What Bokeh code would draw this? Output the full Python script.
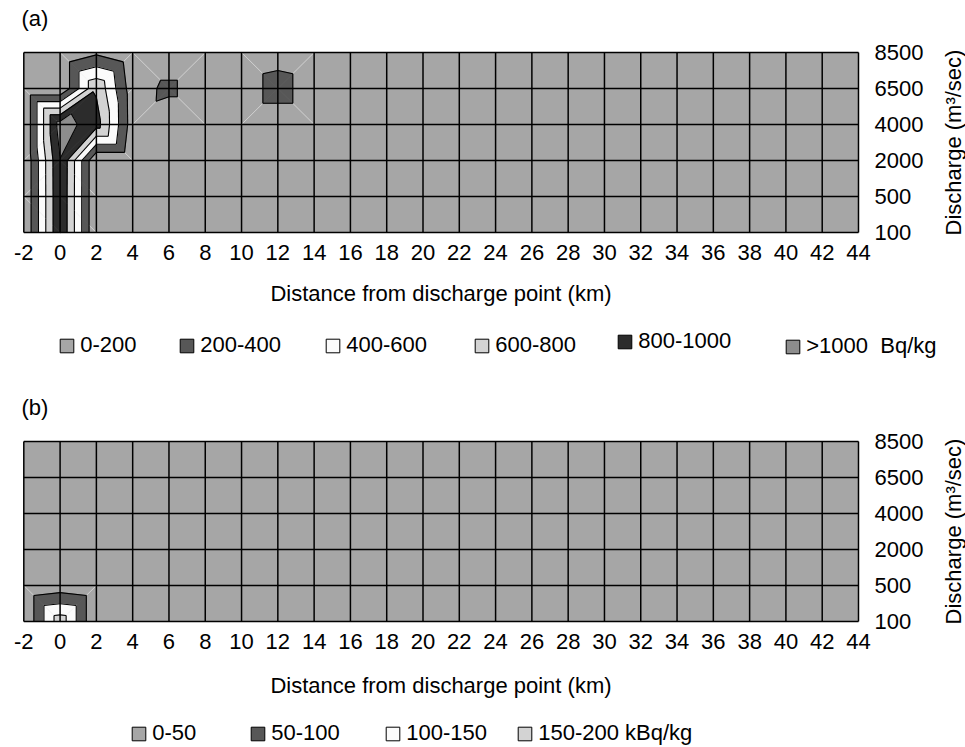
import math
import numpy as np
from bokeh.plotting import figure
from bokeh.layouts import column
from bokeh.models import FixedTicker, Legend, LegendItem, Range1d, Label
from bokeh.embed import file_html
from bokeh.resources import INLINE

FONT = "Liberation Sans"
WIDTH = 965

# distance from the discharge point (km) and discharge levels (m3/sec)
distance_km = [-2, 0, 2, 4, 6, 8, 10, 12, 14, 16, 18, 20, 22, 24, 26, 28, 30, 32, 34, 36, 38, 40, 42, 44]
discharge_labels = ["100", "500", "2000", "4000", "6500", "8500"]

# (a) activity in Bq/kg, one list per discharge level
bq_q100 = [0, 990, 0, 0, 0, 0, 0, 0, 0, 0, 0, 0, 0, 0, 0, 0, 0, 0, 0, 0, 0, 0, 0, 0]
bq_q500 = [0, 990, 0, 0, 0, 0, 0, 0, 0, 0, 0, 0, 0, 0, 0, 0, 0, 0, 0, 0, 0, 0, 0, 0]
bq_q2000 = [0, 995, 0, 0, 0, 0, 0, 0, 0, 0, 0, 0, 0, 0, 0, 0, 0, 0, 0, 0, 0, 0, 0, 0]
bq_q4000 = [0, 1100, 890, 90, 0, 0, 0, 0, 0, 0, 0, 0, 0, 0, 0, 0, 0, 0, 0, 0, 0, 0, 0, 0]
bq_q6500 = [0, 0, 770, 80, 260, 0, 0, 340, 0, 0, 0, 0, 0, 0, 0, 0, 0, 0, 0, 0, 0, 0, 0, 0]
bq_q8500 = [0, 0, 160, 0, 0, 0, 0, 60, 0, 0, 0, 0, 0, 0, 0, 0, 0, 0, 0, 0, 0, 0, 0, 0]

a_levels = [200, 400, 600, 800, 1000]
a_labels = ["0-200", "200-400", "400-600", "600-800", "800-1000", ">1000\u00a0 Bq/kg"]
a_colors = ["#a6a6a6", "#575757", "#fbfbfb", "#d3d3d3", "#2c2c2c", "#8d8d8d"]

# (b) activity in kBq/kg, one list per discharge level
kbq_q100 = [0, 180, 0, 0, 0, 0, 0, 0, 0, 0, 0, 0, 0, 0, 0, 0, 0, 0, 0, 0, 0, 0, 0, 0]
kbq_q500 = [0, 18, 0, 0, 0, 0, 0, 0, 0, 0, 0, 0, 0, 0, 0, 0, 0, 0, 0, 0, 0, 0, 0, 0]
kbq_q2000 = [0, 0, 0, 0, 0, 0, 0, 0, 0, 0, 0, 0, 0, 0, 0, 0, 0, 0, 0, 0, 0, 0, 0, 0]
kbq_q4000 = [0, 0, 0, 0, 0, 0, 0, 0, 0, 0, 0, 0, 0, 0, 0, 0, 0, 0, 0, 0, 0, 0, 0, 0]
kbq_q6500 = [0, 0, 0, 0, 0, 0, 0, 0, 0, 0, 0, 0, 0, 0, 0, 0, 0, 0, 0, 0, 0, 0, 0, 0]
kbq_q8500 = [0, 0, 0, 0, 0, 0, 0, 0, 0, 0, 0, 0, 0, 0, 0, 0, 0, 0, 0, 0, 0, 0, 0, 0]

b_levels = [50, 100, 150]
b_labels = ["0-50", "50-100", "100-150", "150-200 kBq/kg"]
b_colors = ["#a6a6a6", "#575757", "#fbfbfb", "#d3d3d3"]


def split_cells(z, first_level):
    """Split every grid cell into two triangles along its higher diagonal."""
    ny, nx = z.shape
    tris, diags = [], []
    for j in range(ny - 1):
        for i in range(nx - 1):
            bl, br, tl, tr = (i, j), (i + 1, j), (i, j + 1), (i + 1, j + 1)
            if z[j, i] + z[j + 1, i + 1] > z[j + 1, i] + z[j, i + 1]:
                tris += [(bl, br, tr), (bl, tr, tl)]
                d = (bl, tr)
            else:
                tris += [(bl, br, tl), (tl, br, tr)]
                d = (tl, br)
            corners = [z[j, i], z[j, i + 1], z[j + 1, i], z[j + 1, i + 1]]
            if max(corners) >= first_level:
                diags.append(d)
    return tris, diags


def clip_above(pts, vals, level):
    out = []
    for k in range(3):
        (xa, ya), za = pts[k], vals[k]
        (xb, yb), zb = pts[(k + 1) % 3], vals[(k + 1) % 3]
        if za >= level:
            out.append((xa, ya))
        if (za >= level) != (zb >= level):
            t = (level - za) / (zb - za)
            out.append((xa + t * (xb - xa), ya + t * (yb - ya)))
    return out


def crossing(pts, vals, level):
    seg = []
    for k in range(3):
        (xa, ya), za = pts[k], vals[k]
        (xb, yb), zb = pts[(k + 1) % 3], vals[(k + 1) % 3]
        if (za >= level) != (zb >= level):
            t = (level - za) / (zb - za)
            seg.append((xa + t * (xb - xa), ya + t * (yb - ya)))
    return seg


def draw_field(p, rows, levels, colors):
    z = np.array(rows, dtype=float)
    xs = distance_km
    ys = list(range(len(rows)))
    tris, diags = split_cells(z, levels[0])

    p.quad(left=[xs[0]], right=[xs[-1]], bottom=[ys[0]], top=[ys[-1]],
           fill_color=colors[0], line_color=None)
    if diags:
        p.multi_line([[xs[a[0]], xs[b[0]]] for a, b in diags],
                     [[ys[a[1]], ys[b[1]]] for a, b in diags],
                     line_color="#dcdcdc", line_width=0.8)

    for level, color in zip(levels, colors[1:]):
        pxs, pys = [], []
        for tri in tris:
            pts = [(xs[i], ys[j]) for i, j in tri]
            vals = [z[j, i] for i, j in tri]
            poly = clip_above(pts, vals, level)
            if len(poly) >= 3:
                pxs.append([q[0] for q in poly])
                pys.append([q[1] for q in poly])
        if pxs:
            p.patches(pxs, pys, fill_color=color, line_color=color, line_width=0.8)

    lxs, lys = [], []
    for level in levels:
        for tri in tris:
            pts = [(xs[i], ys[j]) for i, j in tri]
            vals = [z[j, i] for i, j in tri]
            seg = crossing(pts, vals, level)
            if len(seg) == 2:
                lxs.append([seg[0][0], seg[1][0]])
                lys.append([seg[0][1], seg[1][1]])
    if lxs:
        p.multi_line(lxs, lys, line_color="black", line_width=1.1)

    # cell grid on top
    n = len(xs)
    m = len(ys)
    p.segment(x0=xs, y0=[ys[0]] * n, x1=xs, y1=[ys[-1]] * n,
              line_color="black", line_width=1.5)
    p.segment(x0=[xs[0]] * m, y0=ys, x1=[xs[-1]] * m, y1=ys,
              line_color="black", line_width=1.5)


def make_panel(tag, rows, levels, colors, labels, height, grid_top, key_x, key_c, label_gap):
    # pixel frame of the cell grid inside the canvas
    px_left, px_right = 23.3, 858.0
    px_top, px_bottom = grid_top, grid_top + 180.0
    x0, x1 = distance_km[0], distance_km[-1]
    y0, y1 = 0, len(discharge_labels) - 1
    kx = (x1 - x0) / (px_right - px_left)
    ky = (y1 - y0) / (px_bottom - px_top)
    x_range = Range1d(x0 - px_left * kx, x1 + (WIDTH - px_right) * kx)
    y_range = Range1d(y0 - (height - px_bottom) * ky, y1 + px_top * ky)

    p = figure(width=WIDTH, height=height, x_range=x_range, y_range=y_range,
               y_axis_location="right", output_backend="svg", toolbar_location=None,
               min_border_left=0, min_border_right=0, min_border_top=0, min_border_bottom=0)
    p.background_fill_color = "white"
    p.border_fill_color = "white"
    p.outline_line_color = None
    p.xgrid.visible = False
    p.ygrid.visible = False

    draw_field(p, rows, levels, colors)

    xa = p.xaxis[0]
    xa.fixed_location = y0
    xa.bounds = (x0, x1)
    xa.ticker = FixedTicker(ticks=distance_km)
    xa.major_label_overrides = {d: str(d) for d in distance_km}
    xa.axis_label = "Distance from discharge point (km)"
    xa.axis_label_standoff = label_gap
    xa.major_label_standoff = 6

    ya = p.yaxis[0]
    ya.fixed_location = x1
    ya.bounds = (y0, y1)
    ya.ticker = FixedTicker(ticks=list(range(len(discharge_labels))))
    ya.major_label_overrides = {i: s for i, s in enumerate(discharge_labels)}
    ya.major_label_standoff = 10

    for ax in (xa, ya):
        ax.axis_line_color = None
        ax.major_tick_line_color = None
        ax.minor_tick_line_color = None
        ax.major_label_text_font = FONT
        ax.major_label_text_font_size = "22px"
        ax.axis_label_text_font = FONT
        ax.axis_label_text_font_size = "22px"
        ax.axis_label_text_font_style = "normal"
        ax.major_label_text_color = "black"
        ax.axis_label_text_color = "black"

    # discharge title, read from bottom to top
    p.add_layout(Label(x=953, y=height - (px_top + px_bottom) / 2, x_units="screen", y_units="screen",
                       text="Discharge (m\u00b3/sec)", angle=math.pi / 2,
                       text_align="center", text_baseline="middle",
                       text_font=FONT, text_font_size="22px", text_color="black"))
    # panel tag
    p.add_layout(Label(x=21, y=height - (px_top - 34), x_units="screen", y_units="screen",
                       text=tag, text_align="left", text_baseline="middle",
                       text_font=FONT, text_font_size="22px", text_color="black"))

    # colour key
    for label, color, lx, lc in zip(labels, colors, key_x, key_c):
        swatch = p.rect(x=[x0 - 100], y=[y0 - 100], width=1, height=1, fill_color=color,
                        line_color="black", line_width=1)
        leg = Legend(items=[LegendItem(label=label, renderers=[swatch])],
                     location=(lx - 1.75, height - lc - 13), orientation="horizontal",
                     glyph_width=17, glyph_height=17, label_standoff=5,
                     padding=0, margin=0, border_line_color=None,
                     background_fill_alpha=0, label_text_color="black",
                     label_text_font=FONT, label_text_font_size="22px")
        p.add_layout(leg)
    return p


fig_a = make_panel("(a)", [bq_q100, bq_q500, bq_q2000, bq_q4000, bq_q6500, bq_q8500],
                   a_levels, a_colors, a_labels, height=376, grid_top=52.0,
                   key_x=[60, 180, 326, 475, 618, 786],
                   key_c=[345, 345, 345, 345, 341, 346], label_gap=18)
fig_b = make_panel("(b)", [kbq_q100, kbq_q500, kbq_q2000, kbq_q4000, kbq_q6500, kbq_q8500],
                   b_levels, b_colors, b_labels, height=371, grid_top=65.0,
                   key_x=[132, 251, 386, 518],
                   key_c=[357, 357, 357, 357], label_gap=21)

layout = column(fig_a, fig_b, spacing=0)
open("out.html", "w").write(file_html(layout, INLINE))
